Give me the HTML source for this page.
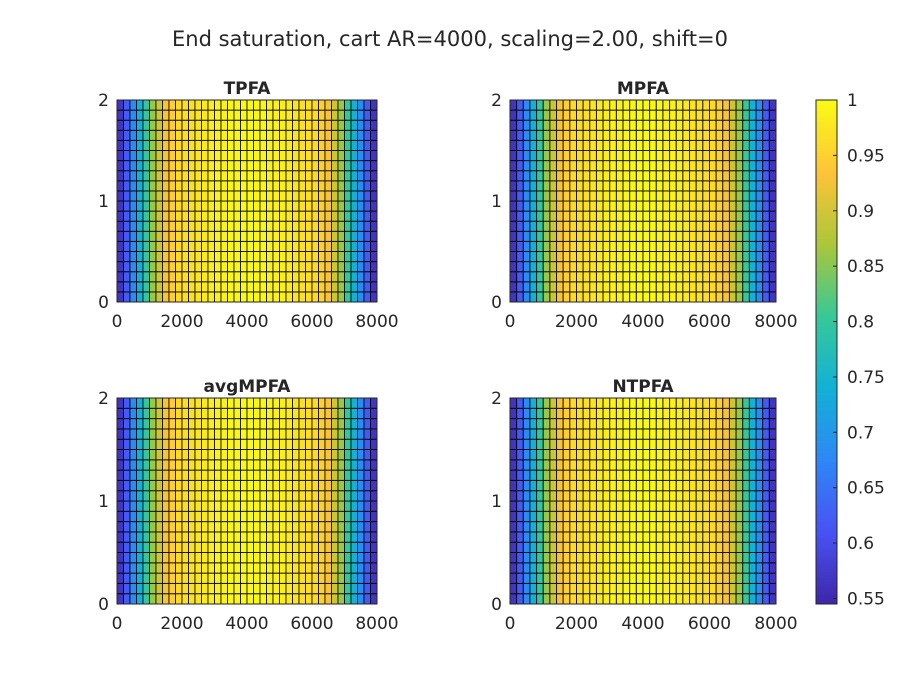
<!DOCTYPE html>
<html><head><meta charset="utf-8"><style>
body{margin:0;background:#fff;}
svg text{font-family:"DejaVu Sans","Liberation Sans",sans-serif;fill:#262626;}
</style></head><body>
<svg id="c" width="903" height="677"></svg>
<script>
const colValues=[0.565,0.62,0.68,0.74,0.80,0.86,0.895,0.93,0.95,0.96,0.965,0.97,0.975,0.98,0.985,0.99,0.99,0.995,0.995,1,1,0.995,0.995,0.99,0.99,0.985,0.98,0.975,0.97,0.965,0.96,0.95,0.93,0.895,0.86,0.80,0.74,0.68,0.62,0.565];
const nRows=20;
const xTicks=[0,2000,4000,6000,8000];
const yTicks=[0,1,2];
const cTicks=[0.55,0.6,0.65,0.7,0.75,0.8,0.85,0.9,0.95,1];
const titles=["TPFA","MPFA","avgMPFA","NTPFA"];
const cmin=0.545,cmax=1;
const stops=[[62,38,168],[72,82,244],[46,135,247],[18,177,214],[55,200,151],[171,199,57],[254,195,56],[249,251,21]];
function parula(v){let t=Math.max(0,Math.min(1,(v-cmin)/(cmax-cmin)))*(stops.length-1);let i=Math.min(stops.length-2,Math.floor(t)),f=t-i;const a=stops[i],b=stops[i+1];return `rgb(${a.map((x,k)=>Math.round(x+(b[k]-x)*f)).join(',')})`;}
const svg=document.getElementById('c');const NS='http://www.w3.org/2000/svg';
function el(tag,attrs,parent){const e=document.createElementNS(NS,tag);for(const k in attrs)e.setAttribute(k,attrs[k]);(parent||svg).appendChild(e);return e;}
let t=el('text',{x:450,y:46,'text-anchor':'middle','font-size':21});t.textContent='End saturation, cart AR=4000, scaling=2.00, shift=0';


const axes=[[117,100,260,202],[510,100,266,202],[117,398,260,206],[510,398,266,206]];
axes.forEach((a,p)=>{const [x0,y0,w,h]=a;const g=el('g',{});


const sx=v=>x0+v/8000*w, sy=v=>y0+h-v/2*h;
const cw=8000/colValues.length, rh=2/nRows;
colValues.forEach((v,i)=>{for(let r=0;r<nRows;r++){const c=el('rect',{x:sx(i*cw),y:sy((r+1)*rh),width:sx((i+1)*cw)-sx(i*cw),height:sy(r*rh)-sy((r+1)*rh),fill:parula(v),stroke:'#000','stroke-width':1,'stroke-opacity':0.8},g);

}});
el('rect',{x:x0,y:y0,width:w,height:h,fill:'none',stroke:'#262626','stroke-width':1},g);
let tt=el('text',{x:x0+w/2,y:y0-6,'text-anchor':'middle','font-size':17,'font-weight':'bold'},g);tt.textContent=titles[p];


xTicks.forEach(v=>{let l=el('text',{x:sx(v),y:y0+h+25,'text-anchor':'middle','font-size':17},g);l.textContent=v;

});
yTicks.forEach(v=>{let l=el('text',{x:x0-8,y:sy(v)+6,'text-anchor':'end','font-size':17},g);l.textContent=v;

});
});
const cb=el('g',{});


const bx=816,by=100,bw=21,bh=504;const cy=v=>by+bh-(v-cmin)/(cmax-cmin)*bh;
for(let i=0;i<200;i++){const v0=cmin+(cmax-cmin)*i/200,v1=cmin+(cmax-cmin)*(i+1)/200;el('rect',{x:bx,y:cy(v1),width:bw,height:cy(v0)-cy(v1)+0.5,fill:parula((v0+v1)/2)},cb);}
el('rect',{x:bx,y:by,width:bw,height:bh,fill:'none',stroke:'#262626','stroke-width':1},cb);
cTicks.forEach(v=>{const y=cy(v);el('line',{x1:bx+bw-4,x2:bx+bw,y1:y,y2:y,stroke:'#262626'},cb);let l=el('text',{x:bx+bw+10,y:y+6,'font-size':17},cb);l.textContent=String(v);

});
</script>
</body></html>
